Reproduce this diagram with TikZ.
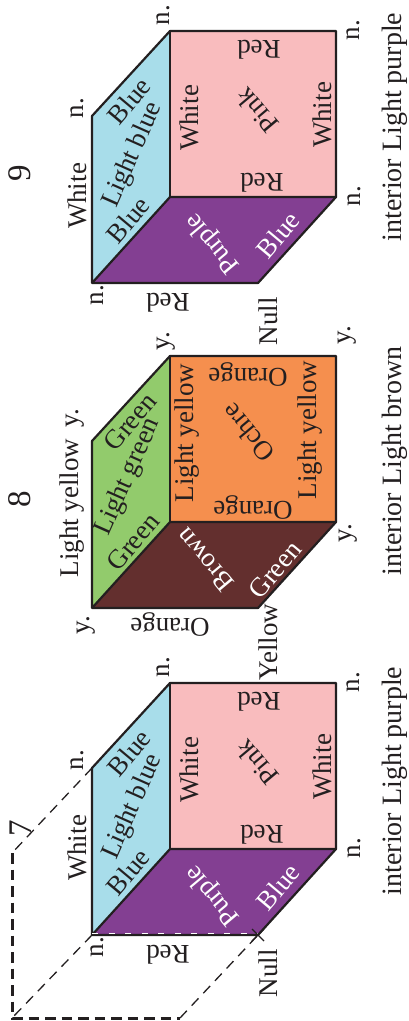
\documentclass[tikz,border=0pt]{standalone}
\usepackage{fontspec}
\setmainfont{Liberation Serif}
\definecolor{ink}{HTML}{231F20}
\definecolor{skyface}{HTML}{A8DDEA}
\definecolor{pinkface}{HTML}{F9BCBE}
\definecolor{purpleface}{HTML}{833F92}
\definecolor{greenface}{HTML}{92CB6C}
\definecolor{ochreface}{HTML}{F58F4E}
\definecolor{brownface}{HTML}{632F2E}
\tikzset{
  face/.style={draw=ink,line width=2.2pt,line join=round},
  lab/.style={font=\fontsize{27}{27}\selectfont,text=ink,inner sep=0pt},
  lablight/.style={lab,text=white},
  up/.style={lab,rotate=90},
  flip/.style={lab,rotate=180},
  slant/.style={lab,rotate=50},
  steep/.style={lab,rotate=66},
  back/.style={lablight,rotate=130},
  caption/.style={up,font=\fontsize{28}{28}\selectfont},
  number/.style={up,font=\fontsize{33}{33}\selectfont},
  thindash/.style={draw=ink,dash pattern=on 10pt off 7pt,line width=1.3pt},
  thickdash/.style={draw=ink,dash pattern=on 10.5pt off 6pt,line width=3pt}
}
\newcommand{\cubefaces}[4]{%
  \fill[#2] (92,#1-81) -- (170,#1-166) -- (170,#1) -- (92,#1+86) -- cycle;
  \fill[#3] (170,#1-166) rectangle (336,#1);
  \fill[#4] (92,#1+86) -- (170,#1) -- (336,#1) -- (258,#1+86) -- cycle;
  \draw[face] (92,#1+86) -- (92,#1-81) -- (170,#1-166) -- (336,#1-166) -- (336,#1) -- (258,#1+86) -- cycle;
  \draw[face] (92,#1+86) -- (170,#1) -- (336,#1);
  \draw[face] (170,#1-166) -- (170,#1);
}
\begin{document}
\begin{tikzpicture}[x=1pt,y=-1pt]
  \useasboundingbox (0,0) rectangle (408,1021);

  % purple boxes
  \foreach \cb/\cn/\cl in {849/seven/-68,197/nine/-70}{
    \cubefaces{\cb}{skyface}{pinkface}{purpleface}
    \node[up] (\cn-nb) at (77,\cb-89) {n.};
    \node[up] (\cn-nt) at (163,\cb-182) {n.};
    \node[up] (\cn-nr) at (353,\cb-167) {n.};
    \node[up] (\cn-nc) at (354,\cb-1) {n.};
    \node[up] (\cn-nf) at (97,\cb+98) {n.};
    \node[up] (\cn-null) at (268,\cb+124) {Null};
    \node[up] (\cn-wside) at (77,\cb-1) {White};
    \node[up] (\cn-wa) at (189,\cb-79) {White};
    \node[up] (\cn-wb) at (322,\cb-82) {White};
    \node[flip] (\cn-ra) at (259,\cb-147) {Red};
    \node[flip] (\cn-rb) at (262,\cb-14) {Red};
    \node[flip] (\cn-rc) at (168,\cb+106) {Red};
    \node[lab,rotate=130] (\cn-pink) at (257,\cb-86) {Pink};
    \node[back] (\cn-purple) at (213,\cb+46) {Purple};
    \node[lablight,rotate=50] (\cn-bf) at (278,\cb+38) {Blue};
    \node[slant] (\cn-ba) at (129,\cb-96) {Blue};
    \node[slant] (\cn-bb) at (128,\cb+23) {Blue};
    \node[steep] (\cn-lb) at (133,\cb-42) {Light blue};
    \node[caption] (\cn-int) at (395,\cb+\cl) {interior Light purple};
  }

  % green box
  \cubefaces{522}{greenface}{ochreface}{brownface}
  \node[up] (eight-yb) at (75,418) {y.};
  \node[up] (eight-yt) at (166,341) {y.};
  \node[up] (eight-yr) at (347,335) {y.};
  \node[up] (eight-yc) at (348,533) {y.};
  \node[up] (eight-yf) at (86,625) {y.};
  \node[up] (eight-yellow) at (268,642) {Yellow};
  \node[up] (eight-lyside) at (72,508) {Light yellow};
  \node[up] (eight-lya) at (187,433) {Light yellow};
  \node[up] (eight-lyb) at (310,430) {Light yellow};
  \node[flip] (eight-oa) at (248,375) {Orange};
  \node[flip] (eight-ob) at (253,508) {Orange};
  \node[flip] (eight-oc) at (170,625) {Orange};
  \node[lab,rotate=130] (eight-ochre) at (248,433) {Ochre};
  \node[back] (eight-brown) at (205,560) {Brown};
  \node[lablight,rotate=50] (eight-gf) at (275,570) {Green};
  \node[slant] (eight-ga) at (130,422) {Green};
  \node[slant] (eight-gb) at (133,542) {Green};
  \node[steep] (eight-lg) at (128,477) {Light green};
  \node[caption] (eight-int) at (395,461) {interior Light brown};

  % numbers
  \node[number] (num-seven) at (21,828) {7};
  \node[number] (num-eight) at (20,499) {8};
  \node[number] (num-nine) at (20,173) {9};

  % hidden box
  \coordinate (dash-a) at (92,768);
  \coordinate (dash-b) at (12,853);
  \coordinate (dash-c) at (12,1018);
  \coordinate (dash-d) at (180,1018);
  \coordinate (dash-e) at (258,935);
  \coordinate (dash-f) at (92,935);
  \draw[thindash] (dash-a) -- (dash-b);
  \draw[thindash] (dash-f) -- (dash-c);
  \draw[thindash] (dash-d) -- (dash-e);
  \draw[thickdash] (dash-b) -- (dash-c) -- (dash-d);
  \draw[white,dash pattern=on 6pt off 10.5pt,line width=0.5pt] ([yshift=1.4pt]dash-f) -- ([yshift=1.4pt]dash-e);
  \draw[draw=ink,line width=1.2pt] ([shift={(-6,-6)}]dash-e) -- ([shift={(6,6)}]dash-e);
  \draw[draw=ink,line width=1.2pt] ([shift={(-6,6)}]dash-e) -- ([shift={(6,-6)}]dash-e);
\end{tikzpicture}
\end{document}
